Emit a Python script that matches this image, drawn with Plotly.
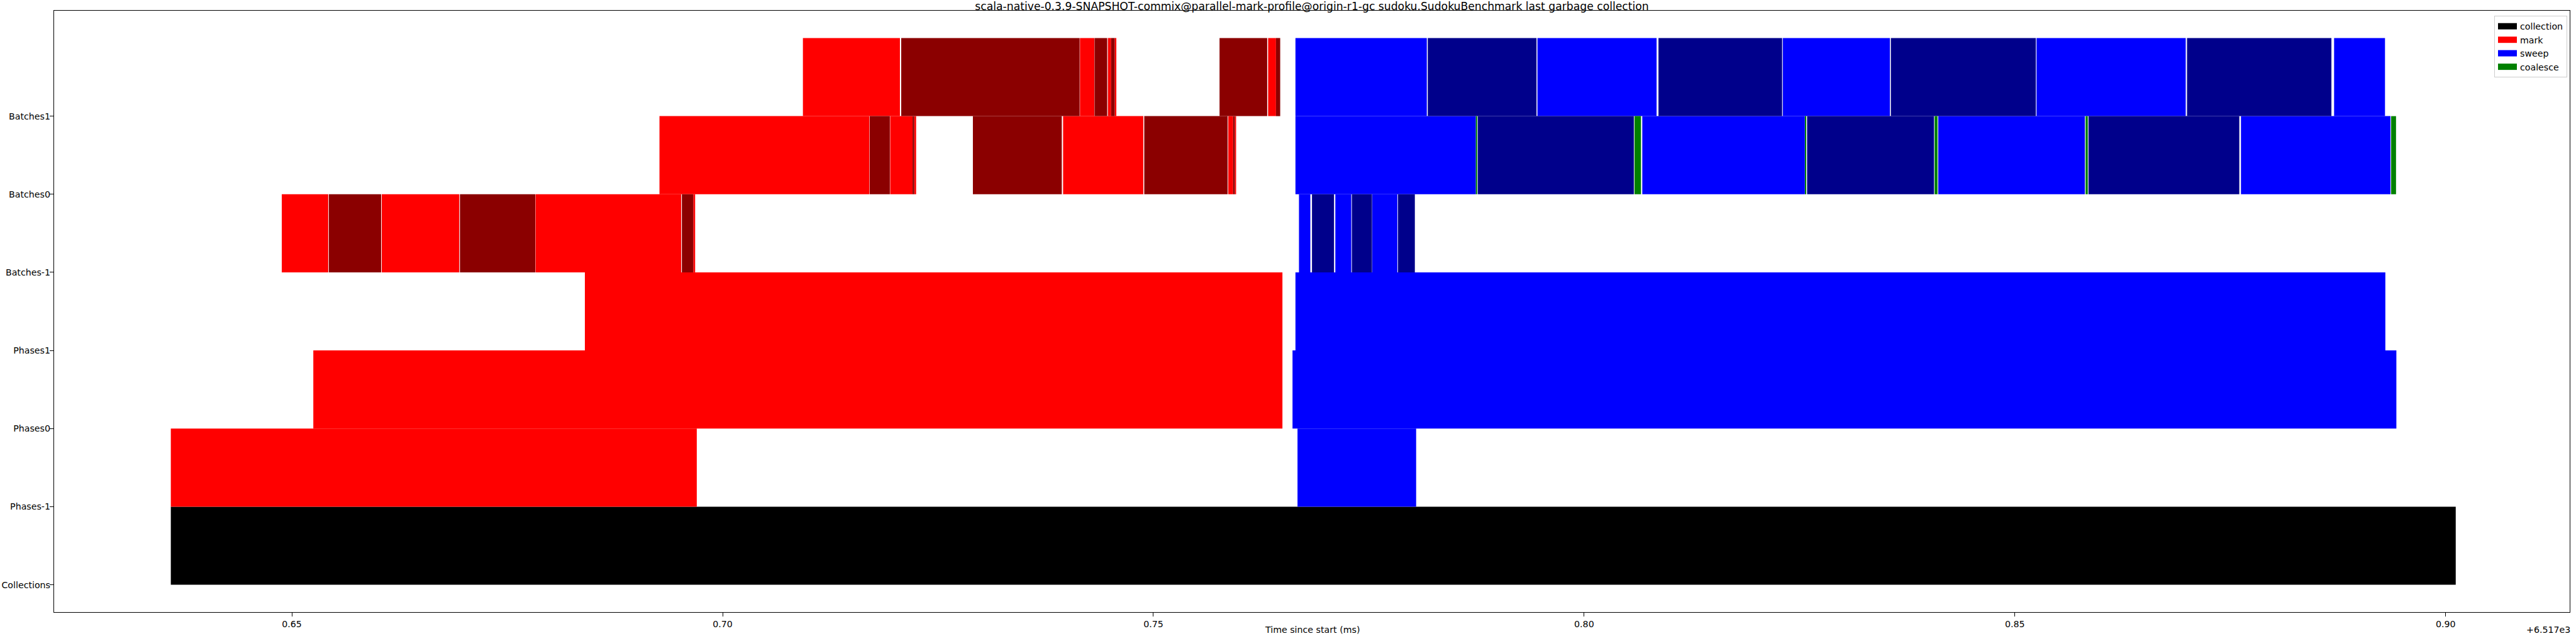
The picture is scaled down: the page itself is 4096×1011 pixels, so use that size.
import plotly.graph_objects as go

# ---------------- data (time since start, ms, offset +6.517e3) ----------------
ROWS = ["Collections", "Phases-1", "Phases0", "Phases1", "Batches-1", "Batches0", "Batches1"]

collections_start = [0.63595]
collections_end = [0.90117]
collections_kind = ["collection"]

phases_m1_start = [0.63595, 0.76673]
phases_m1_end = [0.69700, 0.78050]
phases_m1_kind = ["mark", "sweep"]

phases0_start = [0.65249, 0.76615]
phases0_end = [0.76498, 0.89428]
phases0_kind = ["mark", "sweep"]

phases1_start = [0.68401, 0.76649]
phases1_end = [0.76498, 0.89300]
phases1_kind = ["mark", "sweep"]

batches_m1_start = [0.64883, 0.65429, 0.66043, 0.66951, 0.67828, 0.69527, 0.69659,
                    0.76690, 0.76841, 0.77112, 0.77304, 0.77541, 0.77839]
batches_m1_end = [0.65422, 0.66036, 0.66943, 0.67825, 0.69519, 0.69659, 0.69681,
                  0.76822, 0.77097, 0.77297, 0.77538, 0.77832, 0.78035]
batches_m1_kind = ["mark", "mark_dark", "mark", "mark_dark", "mark", "mark_dark", "mark",
                   "sweep", "sweep_dark", "sweep", "sweep_dark", "sweep", "sweep_dark"]

batches0_start = [0.69267, 0.71708, 0.71945, 0.72205, 0.72224, 0.72905, 0.73952, 0.74894,
                  0.75869, 0.75926, 0.75945, 0.76649, 0.78743, 0.78765, 0.80584, 0.80675,
                  0.82565, 0.82588, 0.84068, 0.84110, 0.85820, 0.85854, 0.87624, 0.89367]
batches0_end = [0.71704, 0.71941, 0.72205, 0.72224, 0.72246, 0.73937, 0.74883, 0.75862,
                0.75926, 0.75945, 0.75960, 0.78743, 0.78758, 0.80577, 0.80660, 0.82562,
                0.82576, 0.84061, 0.84102, 0.85812, 0.85846, 0.87605, 0.89360, 0.89424]
batches0_kind = ["mark", "mark_dark", "mark", "mark_dark", "mark", "mark_dark", "mark", "mark_dark",
                 "mark", "mark_dark", "mark", "sweep", "coalesce", "sweep_dark", "coalesce", "sweep",
                 "coalesce", "sweep_dark", "coalesce", "sweep", "coalesce", "sweep_dark", "sweep", "coalesce"]

batches1_start = [0.70932, 0.72073, 0.74148, 0.74317, 0.74472, 0.74510, 0.74551, 0.75768,
                  0.76332, 0.76423, 0.76649, 0.78185, 0.79458, 0.80863, 0.82306, 0.83560,
                  0.85251, 0.86998, 0.88705]
batches1_end = [0.72058, 0.74144, 0.74314, 0.74464, 0.74510, 0.74551, 0.74570, 0.76321,
                0.76423, 0.76472, 0.78174, 0.79447, 0.80841, 0.82298, 0.83549, 0.85243,
                0.86983, 0.88674, 0.89296]
batches1_kind = ["mark", "mark_dark", "mark", "mark_dark", "mark", "mark_dark", "mark", "mark_dark",
                 "mark", "mark_dark", "sweep", "sweep_dark", "sweep", "sweep_dark", "sweep", "sweep_dark",
                 "sweep", "sweep_dark", "sweep"]

X_TICKS = [0.65, 0.70, 0.75, 0.80, 0.85, 0.90]
X_TICK_LABELS = ["0.65", "0.70", "0.75", "0.80", "0.85", "0.90"]

LEGEND_NAMES = ["collection", "mark", "sweep", "coalesce"]

# ---------------- build ----------------
rows_data = [
    (collections_start, collections_end, collections_kind),
    (phases_m1_start, phases_m1_end, phases_m1_kind),
    (phases0_start, phases0_end, phases0_kind),
    (phases1_start, phases1_end, phases1_kind),
    (batches_m1_start, batches_m1_end, batches_m1_kind),
    (batches0_start, batches0_end, batches0_kind),
    (batches1_start, batches1_end, batches1_kind),
]

KINDS = [
    ("collection", "collection", "#000000"),
    ("mark", "mark", "#ff0000"),
    ("mark_dark", "mark", "#8b0000"),
    ("sweep", "sweep", "#0000ff"),
    ("sweep_dark", "sweep", "#00008b"),
    ("coalesce", "coalesce", "#008000"),
]
LEGEND_COLORS = {"collection": "#000000", "mark": "#ff0000", "sweep": "#0000ff", "coalesce": "#008000"}

FONT = "DejaVu Sans, Verdana, sans-serif"
FS = 14.2

fig = go.Figure()
for key, name, color in KINDS:
    ys, bases, lens = [], [], []
    for idx, (st, en, kd) in enumerate(rows_data):
        for s, e, k in zip(st, en, kd):
            if k == key:
                ys.append(idx + 0.5)
                bases.append(s)
                lens.append(e - s)
    fig.add_trace(go.Bar(
        x=lens, y=ys, base=bases, orientation="h", width=1.0,
        marker=dict(color=color, line=dict(width=0)),
        name=name, legendgroup=name, showlegend=False,
    ))

# legend entries (wide patch-like swatches as in the original legend)
for name in LEGEND_NAMES:
    fig.add_trace(go.Scatter(
        x=[None], y=[None], mode="lines", name=name, legendgroup=name,
        line=dict(color=LEGEND_COLORS[name], width=10), showlegend=True, hoverinfo="skip",
    ))

PLOT_H = 1011 - 17 - 38

fig.update_layout(
    width=4096, height=1011,
    barmode="overlay",
    paper_bgcolor="white", plot_bgcolor="white",
    margin=dict(l=86, r=10, t=17, b=38, autoexpand=False),
    font=dict(family=FONT, size=FS, color="black"),
    title=dict(
        text="scala-native-0.3.9-SNAPSHOT-commix@parallel-mark-profile@origin-r1-gc sudoku.SudokuBenchmark last garbage collection",
        x=0.5, xref="paper", xanchor="center",
        y=1 - 9.5 / 1011, yref="container", yanchor="middle",
        font=dict(family=FONT, size=17.2, color="black"),
        automargin=False,
    ),
    legend=dict(
        x=0.999, xanchor="right", y=1 - 8 / PLOT_H, yanchor="top",
        bgcolor="rgba(255,255,255,0.8)", bordercolor="#cccccc", borderwidth=1,
        font=dict(family=FONT, size=FS, color="black"),
        traceorder="normal",
    ),
    xaxis=dict(
        range=[0.6224, 0.9144], tickmode="array", tickvals=X_TICKS, ticktext=X_TICK_LABELS,
        showgrid=False, zeroline=False, showline=True, linecolor="black", linewidth=1.3,
        mirror=True, ticks="outside", ticklen=6, tickwidth=1.3, tickcolor="black",
        tickfont=dict(family=FONT, size=FS, color="black"), automargin=False,
    ),
    yaxis=dict(
        range=[-0.35, 7.35], tickmode="array", tickvals=list(range(len(ROWS))), ticktext=ROWS,
        showgrid=False, zeroline=False, showline=True, linecolor="black", linewidth=1.3,
        mirror=True, ticks="outside", ticklen=6, tickwidth=1.3, tickcolor="black",
        tickfont=dict(family=FONT, size=FS, color="black"), automargin=False,
        ticklabelstandoff=-4,
    ),
    annotations=[
        dict(text="Time since start (ms)", x=0.5, xref="paper", xanchor="center",
             y=-28.5 / PLOT_H, yref="paper", yanchor="middle", showarrow=False,
             font=dict(family=FONT, size=FS, color="black")),
        dict(text="+6.517e3", x=1.0, xref="paper", xanchor="right", xshift=3,
             y=-28.5 / PLOT_H, yref="paper", yanchor="middle", showarrow=False,
             font=dict(family=FONT, size=FS, color="black")),
    ],
)

fig.write_html(
    "out.html",
    config={"displayModeBar": False},
    post_script="document.body.style.margin='0';document.body.style.padding='0';"
                "document.documentElement.style.overflow='hidden';",
)
